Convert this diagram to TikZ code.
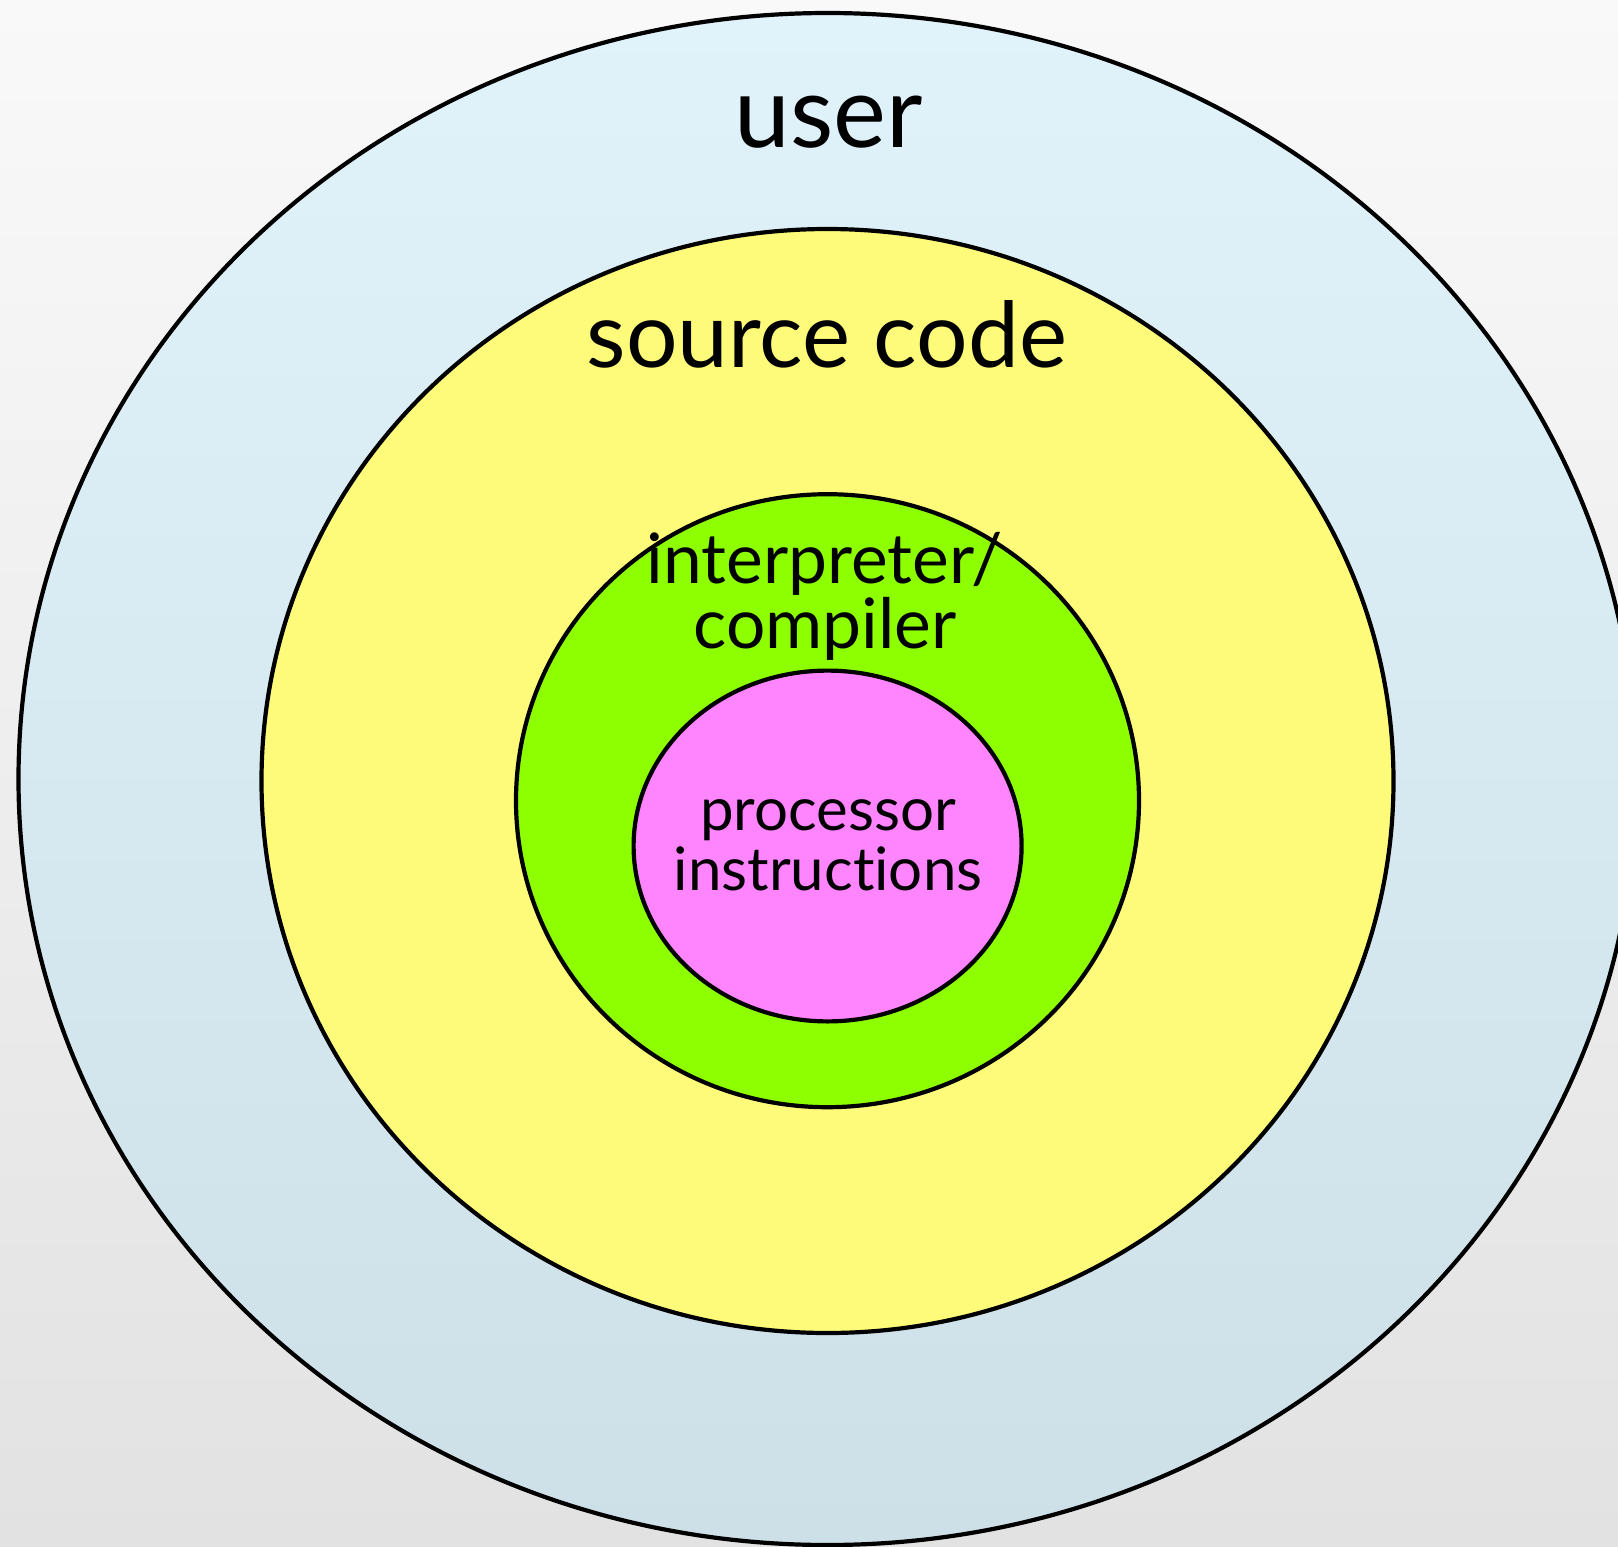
\documentclass[tikz,border=0pt]{standalone}
\usepackage{fontspec}
\setmainfont{Lato}[Ligatures=NoCommon]
\definecolor{bgtop}{HTML}{F9F9F9}
\definecolor{bgbot}{HTML}{E2E2E2}
\definecolor{usertop}{HTML}{E0F2FA}
\definecolor{userbot}{HTML}{CDE0E7}
\definecolor{srcfill}{HTML}{FFFB7A}
\definecolor{cmpfill}{HTML}{8EFF00}
\definecolor{procfill}{HTML}{FF85FF}
\tikzset{
  ring/.style={draw=black, line width=4.2pt},
  lbl/.style={inner sep=0pt, anchor=base, align=center},
}
\begin{document}
\begin{tikzpicture}[x=1pt,y=-1pt]
\useasboundingbox (0,0) rectangle (1618,1547);
\clip (0,0) rectangle (1618,1547);
\shade[top color=bgtop, bottom color=bgbot] (0,0) rectangle (1618,1547);
\shadedraw[ring, top color=usertop, bottom color=userbot] (827.5,779) ellipse [x radius=809, y radius=766];
\filldraw[ring, fill=srcfill] (827.5,781) ellipse [x radius=566, y radius=552];
\filldraw[ring, fill=cmpfill] (827.5,800.7) ellipse [x radius=311.5, y radius=306.5];
\filldraw[ring, fill=procfill] (827.6,846) ellipse [x radius=194, y radius=175.4];
\node[lbl, font=\fontsize{100}{100}\selectfont] (user) at (829,147) {user};
\node[lbl, font=\fontsize{91}{91}\selectfont] (src) at (827,367) {source code};
\node[lbl, font=\fontsize{69.5}{60}\selectfont] (cmp) at (825,648) {interpreter/\\compiler};
\node[lbl, font=\fontsize{60}{60}\selectfont] (proc) at (828,890) {processor\\instructions};
\end{tikzpicture}
\end{document}
